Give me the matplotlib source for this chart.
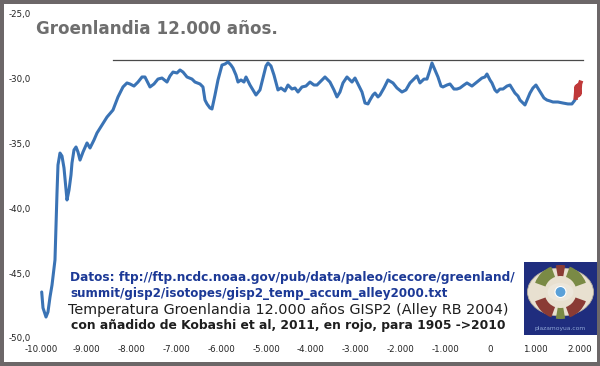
import matplotlib
matplotlib.use("Agg")
import matplotlib.pyplot as plt
from matplotlib.patches import Rectangle, Ellipse, Wedge, Circle

# ---------------- data ----------------
years = [-10000, -9971, -9904, -9860, -9815, -9770, -9704, -9659, -9637, -9592,
         -9548, -9503, -9458, -9436, -9391, -9347, -9325, -9280, -9235, -9191,
         -9146, -9079, -8990, -8923, -8834, -8767, -8656, -8544, -8411, -8299,
         -8188, -8099, -8032, -7943, -7853, -7764, -7698, -7586, -7497, -7408,
         -7319, -7207, -7140, -7073, -6984, -6917, -6850, -6761, -6650, -6583,
         -6471, -6405, -6360, -6315, -6249, -6204, -6137, -6070, -5981, -5914,
         -5847, -5781, -5736, -5669, -5624, -5558, -5491, -5446, -5357, -5290,
         -5223, -5134, -5067, -5000, -4956, -4889, -4822, -4733, -4666, -4577,
         -4510, -4421, -4354, -4287, -4198, -4109, -4019, -3930, -3863, -3774,
         -3685, -3574, -3485, -3418, -3351, -3284, -3195, -3128, -3083, -3016,
         -2949, -2860, -2793, -2727, -2682, -2615, -2570, -2504, -2459, -2370,
         -2281, -2169, -2080, -1969, -1880, -1790, -1724, -1634, -1568, -1478,
         -1411, -1345, -1300, -1233, -1166, -1099, -1055, -966, -898, -810,
         -743, -676, -587, -520, -409, -297, -186, -119, -74, -7,
         37, 104, 149, 216, 283, 372, 439, 506, 550, 617,
         662, 728, 773, 840, 885, 951, 1018, 1085, 1130, 1196,
         1263, 1330, 1397, 1508, 1620, 1731, 1820, 1887, 1905]

temps = [-46.45, -47.68, -48.38, -47.99, -46.84, -45.91, -43.98, -38.81, -36.65, -35.73,
         -35.96, -36.88, -38.58, -39.35, -38.58, -37.42, -36.50, -35.49, -35.26, -35.65,
         -36.27, -35.65, -34.95, -35.34, -34.72, -34.18, -33.56, -32.95, -32.41, -31.40,
         -30.63, -30.32, -30.40, -30.56, -30.25, -29.86, -29.86, -30.63, -30.40, -30.02,
         -29.94, -30.25, -29.78, -29.48, -29.55, -29.32, -29.48, -29.86, -30.02, -30.25,
         -30.40, -30.63, -31.64, -31.94, -32.25, -32.33, -31.25, -30.09, -28.94, -28.86,
         -28.70, -28.94, -29.17, -29.71, -30.25, -30.09, -30.25, -29.86, -30.48, -30.86,
         -31.25, -30.86, -29.94, -29.01, -28.78, -29.01, -29.71, -30.86, -30.71, -30.94,
         -30.48, -30.79, -30.71, -31.02, -30.63, -30.56, -30.25, -30.48, -30.48, -30.17,
         -29.86, -30.25, -30.86, -31.40, -31.02, -30.32, -29.86, -30.09, -30.25, -29.94,
         -30.40, -31.02, -31.87, -31.94, -31.64, -31.25, -31.10, -31.40, -31.25, -30.71,
         -30.09, -30.32, -30.71, -31.02, -30.86, -30.32, -30.09, -29.78, -30.32, -30.02,
         -30.02, -29.32, -28.78, -29.32, -29.86, -30.56, -30.63, -30.48, -30.40, -30.79,
         -30.79, -30.71, -30.48, -30.32, -30.56, -30.25, -29.94, -29.86, -29.63, -30.09,
         -30.32, -30.86, -31.02, -30.79, -30.79, -30.56, -30.48, -30.86, -31.10, -31.33,
         -31.64, -31.87, -32.02, -31.48, -31.10, -30.71, -30.48, -30.86, -31.10, -31.48,
         -31.64, -31.71, -31.79, -31.79, -31.87, -31.94, -31.94, -31.64, -31.48]

kobashi_years = [1905, 1925, 1945, 1965, 1985, 2000, 2010]
kobashi_temps = [-31.45, -30.6, -31.3, -30.5, -31.2, -30.4, -30.3]

ref_years = [-8400, 2070]
ref_temps = [-28.57, -28.57]

xticks = [-10000, -9000, -8000, -7000, -6000, -5000, -4000, -3000, -2000, -1000, 0, 1000, 2000]
xticklabels = ['-10.000', '-9.000', '-8.000', '-7.000', '-6.000', '-5.000', '-4.000',
               '-3.000', '-2.000', '-1.000', '0', '1.000', '2.000']
yticks = [-50, -45, -40, -35, -30, -25]
yticklabels = ['-50,0', '-45,0', '-40,0', '-35,0', '-30,0', '-25,0']

title = "Groenlandia 12.000 años."
src1 = "Datos: ftp://ftp.ncdc.noaa.gov/pub/data/paleo/icecore/greenland/"
src2 = "summit/gisp2/isotopes/gisp2_temp_accum_alley2000.txt"
note1 = "Temperatura Groenlandia 12.000 años GISP2 (Alley RB 2004)"
note2 = "con añadido de Kobashi et al, 2011, en rojo, para 1905 ->2010"
logo_text = "plazamoyua.com"

# ---------------- figure ----------------
W, H = 600, 366
fig = plt.figure(figsize=(W / 100, H / 100), dpi=100)
fig.patch.set_facecolor('white')

def fx(px):
    return px / W

def fy(py):
    return 1 - py / H

ax_l, ax_r, ax_t, ax_b = 41.7, 580.0, 14.0, 338.0
ax = fig.add_axes([fx(ax_l), fy(ax_b), (ax_r - ax_l) / W, (ax_b - ax_t) / H])
ax.set_xlim(-10000, 2000)
ax.set_ylim(-50, -25)
for s in ax.spines.values():
    s.set_visible(False)
ax.set_facecolor('none')

ax.plot(ref_years, ref_temps, color='#4a4a4a', lw=0.9, clip_on=False, zorder=2)
ax.plot(years, temps, color='#3a73b5', lw=2.2, clip_on=False, zorder=3,
        solid_joinstyle='round', solid_capstyle='round')
ax.plot(kobashi_years, kobashi_temps, color='#c0393a', lw=3.2, clip_on=False, zorder=4)

ax.set_xticks(xticks)
ax.set_xticklabels(xticklabels)
ax.set_yticks(yticks)
ax.set_yticklabels(yticklabels)
ax.tick_params(axis='both', length=0, labelsize=6.2, colors='#222222')
ax.tick_params(axis='x', pad=5.0)
ax.tick_params(axis='y', pad=8.0)

renderer = fig.canvas.get_renderer()

def fit_text(s, x0, x1, yc, **kw):
    fs = kw.pop('fontsize', 10)
    t = fig.text(fx(x0), fy(yc), s, ha='left', va='center', fontsize=fs, **kw)
    for _ in range(4):
        w = t.get_window_extent(renderer).width
        fs = fs * (x1 - x0) / w
        t.set_fontsize(fs)
    return t

fit_text(title, 36, 278, 28.5, color='#6e6e6e', fontweight='bold')
fit_text(src1, 70, 518, 277, color='#1c3996', fontweight='bold')
fit_text(src2, 70, 449, 293, color='#1c3996', fontweight='bold')
fit_text(note1, 68, 513, 310, color='#1e1e1e')
fit_text(note2, 71, 506, 326, color='#1e1e1e', fontweight='bold')

# ---------------- logo ----------------
lx0, lx1, ly0, ly1 = 524, 597, 262, 335
lax = fig.add_axes([fx(lx0), fy(ly1), (lx1 - lx0) / W, (ly1 - ly0) / H])
lax.set_xlim(0, lx1 - lx0)
lax.set_ylim(ly1 - ly0, 0)
lax.axis('off')
lax.add_patch(Rectangle((0, 0), lx1 - lx0, ly1 - ly0, facecolor='#1f2d7e', edgecolor='none'))
cx, cy = 36.5, 30
lax.add_patch(Ellipse((cx, cy), 66, 48, facecolor='#e8e0d0', edgecolor='#b8b0a0', lw=0.6))
seg_colors = ['#8a3b35', '#6b7a3a', '#8a3b35', '#6b7a3a', '#8a3b35', '#6b7a3a']
angles = [(20, 70), (80, 100), (110, 160), (200, 250), (260, 280), (290, 340)]
seg_colors = ['#8a3b35', '#7a8a45', '#8a3b35', '#7a8a45', '#8a3b35', '#7a8a45']
for (a0, a1), c in zip(angles, seg_colors):
    lax.add_patch(Wedge((cx, cy), 27, a0, a1, width=11, facecolor=c, edgecolor='none',
                        transform=lax.transData))
lax.add_patch(Ellipse((cx, cy), 26, 18, facecolor='#ece6da', edgecolor='none'))
lax.add_patch(Circle((cx, cy), 5.5, facecolor='#5aa0d8', edgecolor='white', lw=0.8))
lax.text(cx, 66.5, logo_text, ha='center', va='center', fontsize=4.3, color='#8fa6d6')

# ---------------- frame ----------------
fc = '#6c6768'
for (x, y, w, h) in [(0, 0, 3.5, H), (W - 3.5, 0, 3.5, H), (0, 0, W, 3.5), (0, H - 4, W, 4)]:
    fig.patches.append(Rectangle((fx(x), fy(y + h)), w / W, h / H, transform=fig.transFigure,
                                 facecolor=fc, edgecolor='none', zorder=10))

fig.savefig('out.png', dpi=100)
